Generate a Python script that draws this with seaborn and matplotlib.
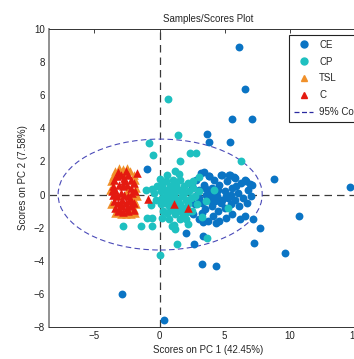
import matplotlib
matplotlib.use("Agg")
import matplotlib.pyplot as plt
from matplotlib.patches import Ellipse
from matplotlib.lines import Line2D
import seaborn as sns
import pandas as pd

# ---------------- data ----------------
ce_x = [6.09, 6.55, 5.6, 7.08, 3.69, 3.77, 5.41, -0.97, 8.82, 14.67, 10.72, 7.75, 7.28, 9.67,
        3.28, 4.36, 0.38, 2.67, 2.0, 3.31, 3.36, 4.31, -2.87, 6.98,
        2.5, 2.8, 3.0, 3.2, 3.4, 3.6, 3.8, 4.0, 4.2, 4.4, 4.6, 4.8, 5.0, 5.2, 5.4, 5.6, 5.8, 6.0,
        6.3, 6.6, 6.8, 7.1, 2.4, 2.7, 3.0, 3.3, 3.5, 3.8, 4.0, 4.3, 4.5, 4.8, 5.0, 5.3, 5.5, 5.8,
        6.1, 6.4, 6.7, 7.0, 2.6, 3.0, 3.3, 3.7, 4.1, 4.6, 5.1, 5.6, 6.2, 6.6, 7.2, 4.5, 5.1, 3.9,
        4.7, 5.9, 2.9, 4.1, 3.5, 5.5, 3.44, 3.82, 4.72, 5.36, 5.75, 6.65]
ce_y = [8.91, 6.38, 4.57, 4.57, 3.68, 3.16, 3.16, 1.53, 0.93, 0.46, -1.27, -1.99, -2.93, -3.52,
        -4.2, -4.32, -7.6, -2.99, -2.35, -2.49, -1.63, -1.73, -5.99, 0.64,
        0.5, 0.9, 0.3, 1.3, 0.6, 0.0, 1.1, 0.4, 0.9, -0.1, 0.6, 1.2, 0.2, 0.8, 1.2, 0.4, 1.0, 0.1,
        0.7, 0.9, 0.3, 0.6, -0.3, -0.6, -0.2, -0.5, -0.9, -0.3, -0.7, -0.4, -1.0, -0.3, -0.8, -0.2,
        -0.6, -0.3, -0.7, -0.2, -0.5, -0.1, -1.2, -1.5, -1.1, -1.6, -1.3, -1.6, -1.4, -1.2, -1.5,
        -1.3, -1.5, 0.3, -0.1, 0.2, -0.5, 0.5, 0.0, -0.1, 0.4, 0.0, 1.39, 1.13, 1.19, 1.19, 1.09, 0.79]

cp_x = [0.65, 1.46, -0.77, -0.5, 1.54, 2.34, 2.8, 6.3, 0.0, 1.38, 3.64, -0.54, -1.43, 1.08, 2.23,
        1.18, 0.2, 0.5, 0.8, 1.0, 1.3, 1.6, 1.9, 2.2, 0.1, 0.4, 0.7, 1.0, 1.3, 1.6, 1.9, 2.3, 2.6,
        0.2, 0.5, 0.8, 1.1, 1.4, 1.7, 2.0, 2.4, 2.7, 0.1, 0.4, 0.7, 1.0, 1.3, 1.6, 1.9, 2.2, 0.3,
        0.6, 0.9, 1.2, 1.5, 1.8, 2.1, 2.5, 0.2, 0.7, 1.6, 2.0, -0.3, -0.4, -0.2, 0.6, 1.2, 2.6, 2.9,
        3.0, -1.05, -0.58, -0.66, -0.97, -0.54, -2.77, 0.95, 3.05, 5.28, 3.3, 0.0, 1.52, 4.2, 3.6]
cp_y = [5.78, 3.58, 3.1, 2.38, 2.0, 2.53, 2.53, 2.0, -3.66, -2.99, -2.63, -1.89, -1.87, -1.83,
        -1.79, -2.09, 0.6, 0.8, 0.5, 0.9, 0.6, 0.9, 0.5, 0.7, 0.2, 0.3, 0.1, 0.3, 0.2, 0.3, 0.1,
        0.2, 0.4, -0.2, -0.1, -0.3, -0.1, -0.3, -0.1, -0.3, -0.2, -0.1, -0.6, -0.5, -0.7, -0.5,
        -0.8, -0.6, -0.8, -0.6, -1.0, -1.1, -0.95, -1.2, -1.0, -1.2, -1.05, -1.0, -1.4, -1.5, -1.5,
        -1.5, -0.3, 0.1, 0.5, 1.2, 1.4, 0.8, -0.6, 0.2, 0.28, 0.34, -0.66, -1.39, -1.39, -1.89,
        -1.89, 1.09, -0.82, -1.33, 0.93, 1.23, 0.3, -0.4]

tsl_x = [-3.1, -2.8, -2.5, -2.3, -3.4, -2.0, -1.85, -1.8, -1.75, -1.8, -1.9, -2.2, -2.6, -3.0,
         -3.4, -3.7, -3.8, -3.75, -2.9, -2.1, -1.95, -3.3, -2.5, -2.0, -3.6]
tsl_y = [1.6, 1.55, 1.6, 1.4, 1.45, 1.2, 0.9, 0.4, -0.1, -0.6, -1.1, -1.15, -1.2, -1.2, -1.1,
         -0.6, 0.3, 0.8, 1.3, 0.0, -0.3, 0.0, 0.2, -0.85, 1.1]

c_x = [-3.5, -3.3, -3.0, -2.7, -2.4, -2.2, -3.6, -3.4, -3.1, -2.8, -2.5, -2.2, -2.0, -3.6, -3.3,
       -3.0, -2.7, -2.4, -2.1, -3.5, -3.2, -2.9, -2.6, -2.3, -3.4, -3.1, -2.5, -2.2, -1.95, -2.0,
       -2.4, -3.2, -2.8, -1.7, -0.9, 1.1, 2.2, -2.6, -3.2, -3.65, -2.85, -2.3, -1.9, -2.7, -3.0]
c_y = [0.9, 1.1, 1.2, 1.0, 1.2, 0.9, 0.5, 0.3, 0.6, 0.5, 0.6, 0.4, 0.7, 0.0, -0.1, 0.1, 0.0,
       -0.1, 0.1, -0.4, -0.5, -0.3, -0.5, -0.4, -0.8, -0.9, -0.8, -0.7, -0.5, -0.95, -1.0, -1.0,
       -1.05, 1.3, -0.25, -0.55, -0.8, 1.4, 1.35, 0.2, -0.7, -0.2, 0.2, 0.8, -0.6]

groups = ["CE", "CP", "TSL", "C"]
colors = {"CE": "#0a74c4", "CP": "#1ec0c0", "TSL": "#f0902a", "C": "#e41a10"}
markers = {"CE": "o", "CP": "o", "TSL": "^", "C": "^"}
sizes = {"CE": 32, "CP": 32, "TSL": 38, "C": 38}

ellipse_center = (0.05, 0.0)
ellipse_width = 15.7
ellipse_height = 6.7

x_ticks = [-5, 0, 5, 10, 15]
y_ticks = [-8, -6, -4, -2, 0, 2, 4, 6, 8, 10]

df = pd.concat([
    pd.DataFrame({"x": ce_x, "y": ce_y, "g": "CE"}),
    pd.DataFrame({"x": cp_x, "y": cp_y, "g": "CP"}),
    pd.DataFrame({"x": tsl_x, "y": tsl_y, "g": "TSL"}),
    pd.DataFrame({"x": c_x, "y": c_y, "g": "C"}),
], ignore_index=True)

# ---------------- plot ----------------
sns.set_style("white")
plt.rcParams["font.family"] = ["Liberation Sans", "DejaVu Sans"]

fig = plt.figure(figsize=(3.54, 3.59), dpi=100)
ax = fig.add_axes([49 / 354, 32 / 359, 318.5 / 354, 298 / 359])

for g in groups:
    sub = df[df["g"] == g]
    sns.scatterplot(data=sub, x="x", y="y", ax=ax, color=colors[g], marker=markers[g],
                    s=sizes[g], linewidth=0, legend=False, zorder=3)

ax.axhline(0, color="#3a3a3a", lw=0.9, dashes=(6, 4), zorder=2)
ax.axvline(0, color="#3a3a3a", lw=0.9, dashes=(6, 4), zorder=2)
ell = Ellipse(ellipse_center, ellipse_width, ellipse_height, fill=False,
              edgecolor="#4a4ab8", lw=0.8, ls=(0, (5, 3)), zorder=2)
ax.add_patch(ell)

ax.set_xlim(-8.5, 16)
ax.set_ylim(-8, 10)
ax.set_xticks(x_ticks)
ax.set_yticks(y_ticks)
ax.tick_params(direction="in", length=3, width=0.6, labelsize=7, colors="#222222",
               top=True, right=True, pad=3)
for s in ax.spines.values():
    s.set_color("#333333")
    s.set_linewidth(0.7)
ax.spines["left"].set_color("#909090")
ax.spines["left"].set_linewidth(1.4)

ax.set_title("Samples/Scores Plot", fontsize=7, pad=5)
ax.set_xlabel("Scores on PC 1 (42.45%)", fontsize=7, labelpad=3)
ax.set_ylabel("Scores on PC 2 (7.58%)", fontsize=7, labelpad=4)

handles = [
    Line2D([], [], ls="", marker="o", color=colors["CE"], markersize=5),
    Line2D([], [], ls="", marker="o", color=colors["CP"], markersize=5),
    Line2D([], [], ls="", marker="^", color=colors["TSL"], markersize=5),
    Line2D([], [], ls="", marker="^", color=colors["C"], markersize=5),
    Line2D([], [], color="#2a2aa0", lw=0.9, ls=(0, (4, 2))),
]
labels = ["CE", "CP", "TSL", "C", "95% Conf. Limit"]
leg = ax.legend(handles, labels, loc="upper left",
                bbox_to_anchor=(289 / 354, 1 - 35 / 359), bbox_transform=fig.transFigure,
                fontsize=7, frameon=True, fancybox=False, framealpha=1, edgecolor="#222222",
                borderpad=0.5, labelspacing=0.7, handlelength=2.0, handletextpad=0.6,
                borderaxespad=0)
leg.get_frame().set_linewidth(0.8)

fig.savefig("out.png", dpi=100)
